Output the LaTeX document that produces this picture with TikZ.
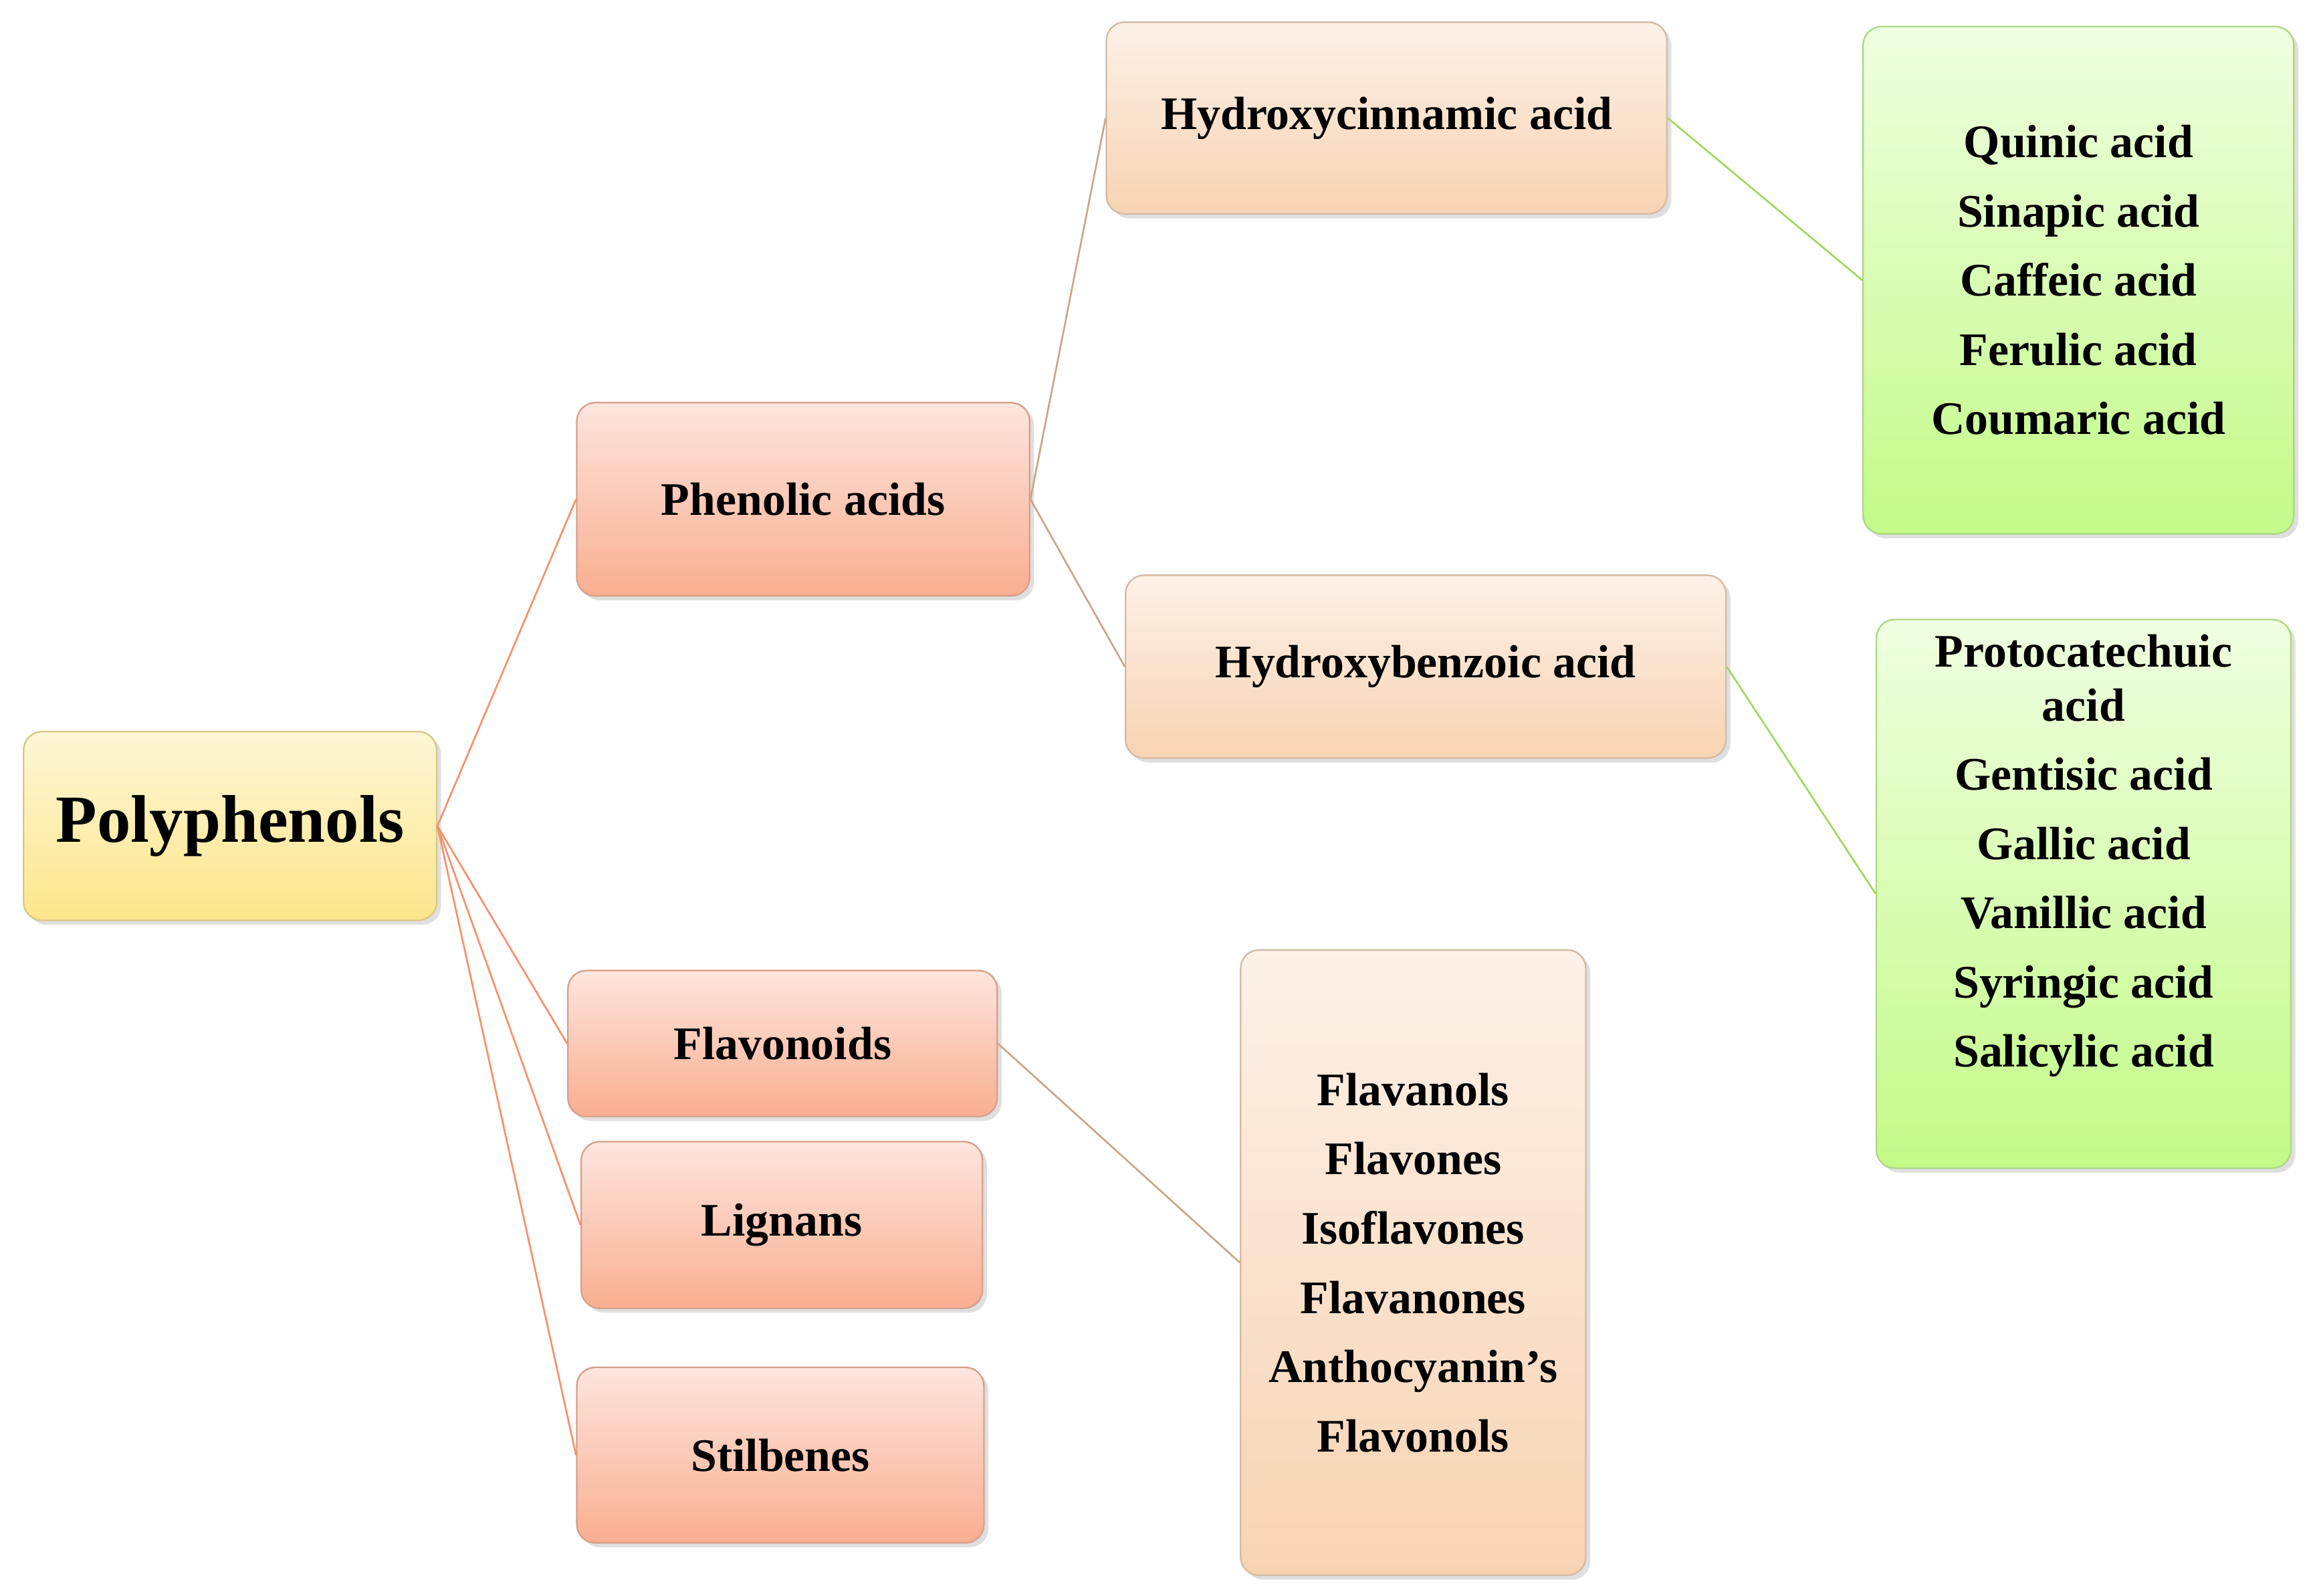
\documentclass[tikz,border=0pt]{standalone}
\usepackage{fontspec}
\setmainfont{Liberation Serif}
\usetikzlibrary{shadows}
\definecolor{yT}{HTML}{FDF6D6}\definecolor{yB}{HTML}{FDE68A}
\definecolor{sT}{HTML}{FDE5DE}\definecolor{sB}{HTML}{F9AE90}
\definecolor{pT}{HTML}{FDF1E8}\definecolor{pB}{HTML}{F7D3B2}
\definecolor{gT}{HTML}{EFFFE0}\definecolor{gB}{HTML}{C3FA88}
\definecolor{lo}{HTML}{F4926E}\definecolor{lt}{HTML}{C8A888}\definecolor{lg}{HTML}{A0D860}
\tikzset{
 box/.style={draw=#1B!70!gray, line width=0.6pt, rounded corners=0.25cm, top color=#1T, bottom color=#1B,
   drop shadow={shadow xshift=0.06cm,shadow yshift=-0.06cm,opacity=0.25}, inner sep=0pt,
   font=\fontsize{18}{26.7}\selectfont\bfseries, align=center},
 lst/.style={font=\fontsize{18}{26.7}\selectfont\bfseries, align=center, inner sep=0pt},
 c/.style={line width=0.7pt}
}
\begin{document}
\begin{tikzpicture}
\useasboundingbox (0,0) rectangle (31.36,-21.64);
\node[box=y, minimum width=5.6cm, minimum height=2.56cm, font=\fontsize{26}{30}\selectfont\bfseries] (poly) at (3.12,-11.2) {Polyphenols};
\node[box=s, minimum width=6.14cm, minimum height=2.62cm] (phen) at (10.89,-6.77) {Phenolic acids};
\node[box=s, minimum width=5.82cm, minimum height=1.98cm] (flav) at (10.61,-14.15) {Flavonoids};
\node[box=s, minimum width=5.44cm, minimum height=2.26cm] (lign) at (10.6,-16.61) {Lignans};
\node[box=s, minimum width=5.52cm, minimum height=2.38cm] (stil) at (10.58,-19.73) {Stilbenes};
\node[box=p, minimum width=7.6cm, minimum height=2.6cm] (hcin) at (18.8,-1.6) {Hydroxycinnamic acid};
\node[box=p, minimum width=8.14cm, minimum height=2.48cm] (hben) at (19.33,-9.04) {Hydroxybenzoic acid};
\node[box=g, minimum width=5.84cm, minimum height=6.88cm] (g1) at (28.18,-3.8) {};
\node[lst] (g1t) at (g1.center) {Quinic acid\\Sinapic acid\\Caffeic acid\\Ferulic acid\\Coumaric acid};
\node[box=g, minimum width=5.62cm, minimum height=7.44cm] (g2) at (28.25,-12.12) {};
\node[lst, anchor=north] (g2t) at (28.25,-8.6) {Protocatechuic\\[-6pt]acid\\Gentisic acid\\Gallic acid\\Vanillic acid\\Syringic acid\\Salicylic acid};
\node[box=p, minimum width=4.68cm, minimum height=8.48cm] (fl) at (19.16,-17.12) {};
\node[lst] (flt) at (fl.center) {Flavanols\\Flavones\\Isoflavones\\Flavanones\\Anthocyanin's\\Flavonols};
\draw[c, lo] (poly.east) -- (phen.west);
\draw[c, lo] (poly.east) -- (flav.west);
\draw[c, lo] (poly.east) -- (lign.west);
\draw[c, lo] (poly.east) -- (stil.west);
\draw[c, lt] (phen.east) -- (hcin.west);
\draw[c, lt] (phen.east) -- (hben.west);
\draw[c, lt] (flav.east) -- (fl.west);
\draw[c, lg] (hcin.east) -- (g1.west);
\draw[c, lg] (hben.east) -- (g2.west);
\end{tikzpicture}
\end{document}
